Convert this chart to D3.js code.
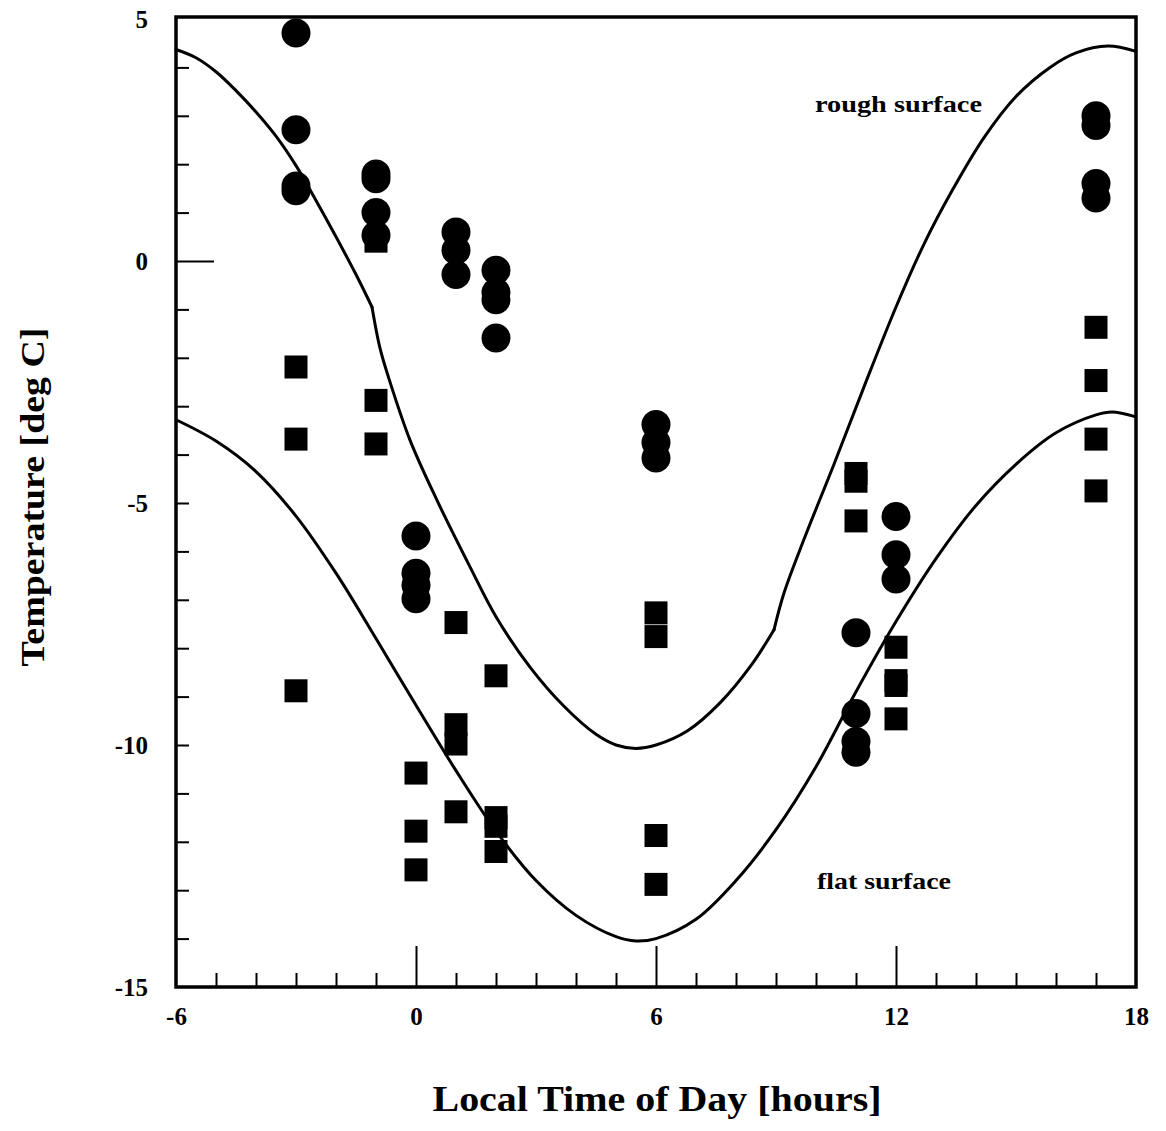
<!DOCTYPE html>
<html>
<head>
<meta charset="utf-8">
<script src="https://cdn.jsdelivr.net/npm/d3@7"></script>
<style>
  html, body { margin: 0; padding: 0; background: #fff; }
  svg { display: block; }
  text { font-family: "Liberation Serif", "Times New Roman", serif; font-weight: bold; fill: #000; }
</style>
</head>
<body>
<svg id="chart" width="1166" height="1131"></svg>
<script>
// ---------------- data ----------------
const xMajorTicks = [-6, 0, 6, 12, 18];
const yTickLabels = [5, 0, -5, -10, -15];

// rough surface model curve (time [h], temperature [deg C]); kinks where the curve breaks
const roughCurveTime = [-6, -5.5, -5, -4.5, -4, -3.5, -3, -2.5, -2, -1.5, -1.1, -0.9, -0.65, -0.15, 0.5, 1.35, 2, 2.85, 3.7, 4.5, 5, 5.5, 6, 6.8, 7.6, 8.4, 8.95, 9.2, 9.7, 10.45, 11.2, 12, 12.7, 13.4, 14.2, 15, 15.85, 16.5, 17.3, 18];
const roughCurveTemp = [4.37, 4.2, 3.91, 3.52, 3.08, 2.58, 1.97, 1.25, 0.5, -0.28, -0.95, -1.8, -2.5, -3.7, -4.9, -6.32, -7.35, -8.39, -9.2, -9.78, -10.0, -10.07, -10.0, -9.7, -9.13, -8.33, -7.62, -6.86, -5.75, -4.2, -2.6, -0.95, 0.35, 1.45, 2.55, 3.4, 4.0, 4.3, 4.44, 4.33];
const roughCurveKinks = [-1.1, 8.95];

// flat surface model curve
const flatCurveTime = [-6, -5, -4, -3, -2, -1, 0, 1, 2, 3, 4, 5, 5.5, 6, 7, 8, 9, 10, 11, 12, 13, 14, 15, 16, 17, 17.4, 18];
const flatCurveTemp = [-3.28, -3.72, -4.35, -5.27, -6.45, -7.8, -9.18, -10.53, -11.78, -12.8, -13.52, -13.96, -14.05, -14.0, -13.6, -12.8, -11.75, -10.45, -8.9, -7.45, -6.15, -5.05, -4.2, -3.55, -3.18, -3.12, -3.22];

// measurements, rough surface (circles)
const roughObsTime = [-3, -3, -3, -3, -1, -1, -1, -1, 0, 0, 0, 0, 1, 1, 1, 2, 2, 2, 2, 6, 6, 6, 11, 11, 11, 11, 12, 12, 12, 17, 17, 17, 17];
const roughObsTemp = [4.71, 2.71, 1.55, 1.45, 1.8, 1.7, 1.0, 0.53, -5.68, -6.45, -6.7, -6.98, 0.6, 0.22, -0.28, -0.19, -0.65, -0.8, -1.59, -3.38, -3.75, -4.07, -7.68, -9.35, -9.93, -10.15, -5.28, -6.07, -6.57, 3.0, 2.8, 1.6, 1.3];

// measurements, flat surface (squares)
const flatObsTime = [-3, -3, -3, -1, -1, -1, 0, 0, 0, 1, 1, 1, 1, 2, 2, 2, 2, 6, 6, 6, 6, 11, 11, 11, 12, 12, 12, 12, 17, 17, 17, 17];
const flatObsTemp = [-2.19, -3.68, -8.88, 0.41, -2.88, -3.78, -10.58, -11.78, -12.58, -7.47, -9.58, -9.98, -11.38, -8.57, -11.5, -11.68, -12.2, -7.27, -7.76, -11.87, -12.88, -4.39, -4.55, -5.37, -7.98, -8.67, -8.77, -9.46, -1.37, -2.47, -3.68, -4.75];

const xTitle = "Local Time of Day [hours]";
const yTitle = "Temperature [deg C]";
const roughLabel = "rough surface";
const flatLabel = "flat surface";

// ---------------- layout ----------------
const svg = d3.select("#chart");
const L = 176, R = 1136, T = 19, B = 987;
const x = d3.scaleLinear().domain([-6, 18]).range([L, R]);
const y = d3.scaleLinear().domain([-15, 5]).range([B, T]);
const fmt = d => String(d);

// minor / major ticks on x (pointing inward)
const xMinor = d3.range(-5, 18).filter(v => !xMajorTicks.includes(v));
const gxMinor = svg.append("g").attr("transform", `translate(0,${B})`)
  .call(d3.axisBottom(x).tickValues(xMinor).tickSize(-14).tickFormat(""));
const gxMajor = svg.append("g").attr("transform", `translate(0,${B})`)
  .call(d3.axisBottom(x).tickValues([0, 6, 12]).tickSize(-41).tickFormat(""));
const gxLab = svg.append("g").attr("transform", `translate(0,${B})`)
  .call(d3.axisBottom(x).tickValues(xMajorTicks).tickSize(0).tickPadding(20).tickFormat(fmt));

const yMinor = d3.range(-14, 5).filter(v => v !== 0);
const gyMinor = svg.append("g").attr("transform", `translate(${L},0)`)
  .call(d3.axisLeft(y).tickValues(yMinor).tickSize(-13).tickFormat(""));
const gyMajor = svg.append("g").attr("transform", `translate(${L},0)`)
  .call(d3.axisLeft(y).tickValues([0]).tickSize(-38).tickFormat(""));
const gyLab = svg.append("g").attr("transform", `translate(${L},0)`)
  .call(d3.axisLeft(y).tickValues(yTickLabels).tickSize(0).tickPadding(28).tickFormat(fmt));

[gxMinor, gxMajor, gxLab, gyMinor, gyMajor, gyLab].forEach(g => {
  g.attr("font-size", null).attr("font-family", null);
  g.select(".domain").remove();
  g.selectAll(".tick line").attr("stroke", "#000").attr("stroke-width", 2);
  g.selectAll(".tick text").style("font-family", '"Liberation Serif", serif')
    .style("font-weight", "bold").style("font-size", "25px").attr("fill", "#000");
});

// frame
svg.append("rect").attr("x", L).attr("y", 17).attr("width", R - L).attr("height", B - 17)
  .attr("fill", "none").attr("stroke", "#000").attr("stroke-width", 3.5);

// curves
const line = d3.line().x(d => x(d[0])).y(d => y(d[1])).curve(d3.curveCatmullRom.alpha(0.5));
const roughPts = d3.zip(roughCurveTime, roughCurveTemp);
const bounds = [-Infinity, ...roughCurveKinks, Infinity];
for (let i = 0; i < bounds.length - 1; i++) {
  const seg = roughPts.filter(p => p[0] >= bounds[i] && p[0] <= bounds[i + 1]);
  svg.append("path").datum(seg)
    .attr("d", line).attr("fill", "none").attr("stroke", "#000").attr("stroke-width", 3)
    .attr("stroke-linejoin", "round").attr("stroke-linecap", "round");
}
svg.append("path").datum(d3.zip(flatCurveTime, flatCurveTemp))
  .attr("d", line).attr("fill", "none").attr("stroke", "#000").attr("stroke-width", 3);

// squares
const sq = 23;
svg.append("g").selectAll("rect").data(d3.zip(flatObsTime, flatObsTemp)).join("rect")
  .attr("x", d => x(d[0]) - sq / 2).attr("y", d => y(d[1]) - sq / 2)
  .attr("width", sq).attr("height", sq).attr("fill", "#000");

// circles
svg.append("g").selectAll("circle").data(d3.zip(roughObsTime, roughObsTemp)).join("circle")
  .attr("cx", d => x(d[0])).attr("cy", d => y(d[1])).attr("r", 14.5).attr("fill", "#000");

// annotations
svg.append("text").attr("x", 815).attr("y", 112).attr("font-size", 24)
  .attr("textLength", 167).attr("lengthAdjust", "spacingAndGlyphs").text(roughLabel);
svg.append("text").attr("x", 817).attr("y", 889).attr("font-size", 24)
  .attr("textLength", 134).attr("lengthAdjust", "spacingAndGlyphs").text(flatLabel);

// axis titles
svg.append("text").attr("x", 657).attr("y", 1111).attr("text-anchor", "middle")
  .attr("font-size", 35).attr("textLength", 449).attr("lengthAdjust", "spacingAndGlyphs").text(xTitle);
svg.append("text").attr("transform", "translate(44,497) rotate(-90)").attr("text-anchor", "middle")
  .attr("font-size", 34).attr("textLength", 339).attr("lengthAdjust", "spacingAndGlyphs").text(yTitle);
</script>
</body>
</html>
